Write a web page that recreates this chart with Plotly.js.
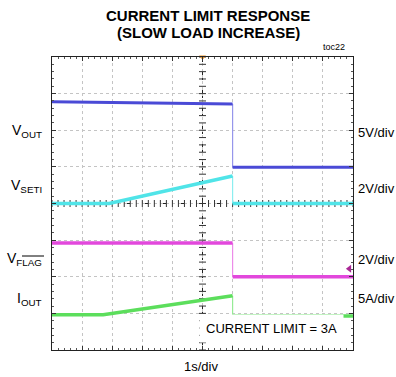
<!DOCTYPE html>
<html><head><meta charset="utf-8">
<script src="https://cdn.plot.ly/plotly-3.0.1.min.js"></script>
<style>html,body{margin:0;padding:0;background:#fff}#chart{width:396px;height:377px}</style>
</head><body><div id="chart"></div>
<script>
// Time axis in divisions (1 s/div); trace levels in screen divisions (8 vertical divs)
const VOUT_T_PRE = [0, 6.0];
const VOUT_V_PRE = [6.78, 6.72];
const VOUT_T_POST = [6.0, 10];
const VOUT_V_POST = [4.99, 4.99];

const VSETI_T_PRE = [0, 1.9, 6.0];
const VSETI_V_PRE = [4.0, 4.0, 4.75];
const VSETI_T_POST = [6.0, 10];
const VSETI_V_POST = [4.0, 4.0];

const VFLAG_T_PRE = [0, 6.0];
const VFLAG_V_PRE = [2.92, 2.92];
const VFLAG_T_POST = [6.0, 10];
const VFLAG_V_POST = [2.0, 2.0];

const IOUT_T_PRE = [0, 1.7, 6.0];
const IOUT_V_PRE = [0.96, 0.96, 1.48];
const IOUT_T_POST = [6.0, 10];
const IOUT_V_POST = [0.93, 0.93];

const LEFT_LABELS = ['V<sub>OUT</sub>', 'V<sub>SETI</sub>', 'V<sub>FLAG</sub>', 'I<sub>OUT</sub>'];
const RIGHT_LABELS = ['5V/div', '2V/div', '2V/div', '5A/div'];
const TITLE_LINES = ['CURRENT LIMIT RESPONSE', '(SLOW LOAD INCREASE)'];
const X_LABEL = '1s/div';
const NOTE = 'CURRENT LIMIT = 3A';
const TOC = 'toc22';

const COLORS = {
  vout: 'rgb(74,74,214)', voutEdge: 'rgb(150,150,235)',
  vseti: 'rgb(80,228,232)', vsetiEdge: 'rgb(140,238,240)',
  vflag: 'rgb(226,72,220)', vflagEdge: 'rgb(236,140,232)',
  iout: 'rgb(92,222,92)', ioutEdge: 'rgb(150,235,150)'
};

const W = 396, H = 377, L = 52, R = 353, T = 57, B = 350;
const px = x => (x - L) / (R - L);
const py = y => (B - y) / (B - T);

function seg(t, v, color, w) {
  return {x: t, y: v, type: 'scatter', mode: 'lines', line: {color: color, width: w}, hoverinfo: 'skip', showlegend: false};
}
function edge(tPre, vPre, tPost, vPost, color) {
  return seg([tPre[tPre.length - 1], tPost[0]], [vPre[vPre.length - 1], vPost[0]], color, 1.2);
}

// center-line tick marks (graticule decoration)
const hx = [], hy = [], vx = [], vy = [];
for (let i = 0; i <= 50; i++) { hx.push(i * 0.2); hy.push(4); }
for (let i = 0; i <= 40; i++) { vx.push(5); vy.push(i * 0.2); }

const data = [
  {x: hx, y: hy, type: 'scatter', mode: 'markers', marker: {symbol: 'line-ns', size: 5, line: {color: '#333', width: 1}}, hoverinfo: 'skip', showlegend: false},
  {x: vx, y: vy, type: 'scatter', mode: 'markers', marker: {symbol: 'line-ew', size: 5, line: {color: '#333', width: 1}}, hoverinfo: 'skip', showlegend: false},
  edge(VOUT_T_PRE, VOUT_V_PRE, VOUT_T_POST, VOUT_V_POST, COLORS.voutEdge),
  edge(VSETI_T_PRE, VSETI_V_PRE, VSETI_T_POST, VSETI_V_POST, COLORS.vsetiEdge),
  edge(VFLAG_T_PRE, VFLAG_V_PRE, VFLAG_T_POST, VFLAG_V_POST, COLORS.vflagEdge),
  edge(IOUT_T_PRE, IOUT_V_PRE, IOUT_T_POST, IOUT_V_POST, COLORS.ioutEdge),
  seg(VOUT_T_PRE, VOUT_V_PRE, COLORS.vout, 3),
  seg(VOUT_T_POST, VOUT_V_POST, COLORS.vout, 3),
  seg(VSETI_T_PRE, VSETI_V_PRE, COLORS.vseti, 3.5),
  seg(VSETI_T_POST, VSETI_V_POST, COLORS.vseti, 3.5),
  seg(VFLAG_T_PRE, VFLAG_V_PRE, COLORS.vflag, 3.5),
  seg(VFLAG_T_POST, VFLAG_V_POST, COLORS.vflag, 3.5),
  seg(IOUT_T_PRE, IOUT_V_PRE, COLORS.iout, 3.5),
  seg(IOUT_T_POST, IOUT_V_POST, COLORS.iout, 3.5),
  // trigger marker (top) and channel ground marker (right)
  {x: [5], y: [8], type: 'scatter', mode: 'markers', marker: {symbol: 'triangle-down', size: 6, color: 'rgb(240,150,40)'}, cliponaxis: false, hoverinfo: 'skip', showlegend: false},
  {x: [9.88], y: [2.22], type: 'scatter', mode: 'markers', marker: {symbol: 'triangle-left', size: 7, color: 'rgb(170,40,150)'}, cliponaxis: false, hoverinfo: 'skip', showlegend: false}
];

const FONT = 'Liberation Sans, Arial, sans-serif';
const leftY = [131, 186, 259, 299];
const rightY = [132, 188, 259, 298];
const annotations = [];
TITLE_LINES.forEach((t, i) => annotations.push({
  text: t, xref: 'paper', yref: 'paper', x: px(208), y: py(16 + i * 17), xanchor: 'center', yanchor: 'middle',
  showarrow: false, font: {family: FONT, size: 15, color: '#000', weight: 'bold'}
}));
annotations.push({text: TOC, xref: 'paper', yref: 'paper', x: px(347), y: py(47), xanchor: 'right', yanchor: 'middle', showarrow: false, font: {family: FONT, size: 9, color: '#000'}});
LEFT_LABELS.forEach((t, i) => annotations.push({
  text: t, xref: 'paper', yref: 'paper', x: px(44), y: py(leftY[i]), xanchor: 'right', yanchor: 'middle',
  showarrow: false, font: {family: FONT, size: 14, color: '#000'}
}));
RIGHT_LABELS.forEach((t, i) => annotations.push({
  text: t, xref: 'paper', yref: 'paper', x: px(356), y: py(rightY[i]), xanchor: 'left', yanchor: 'middle',
  showarrow: false, font: {family: FONT, size: 13, color: '#000'}
}));
annotations.push({text: X_LABEL, xref: 'paper', yref: 'paper', x: px(201), y: py(366), xanchor: 'center', yanchor: 'middle', showarrow: false, font: {family: FONT, size: 13, color: '#000'}});
annotations.push({text: NOTE, xref: 'paper', yref: 'paper', x: px(271), y: py(328), xanchor: 'center', yanchor: 'middle', showarrow: false,
  bgcolor: '#fff', borderpad: 6, font: {family: FONT, size: 13, color: '#000'}});

const shapes = [
  {type: 'line', xref: 'x', yref: 'y', x0: 5, x1: 5, y0: 0, y1: 8, line: {color: '#222', width: 1, dash: 'dash'}, layer: 'below'},
  {type: 'line', xref: 'x', yref: 'y', x0: 0, x1: 10, y0: 4, y1: 4, line: {color: '#222', width: 1, dash: 'dash'}, layer: 'below'},
  // overline on FLAG subscript
  {type: 'line', xref: 'paper', yref: 'paper', x0: px(22), x1: px(44), y0: py(256), y1: py(256), line: {color: '#000', width: 1}}
];

const axisCommon = {
  showgrid: true, gridcolor: '#c4c4c4', griddash: 'dot', gridwidth: 1, zeroline: false,
  showline: true, linecolor: '#222', linewidth: 1, mirror: 'allticks',
  ticks: 'inside', ticklen: 4, tickcolor: '#333', showticklabels: false, fixedrange: true,
  minor: {dtick: 0.2, ticks: 'inside', ticklen: 2, tickcolor: '#555', showgrid: false}
};

const layout = {
  width: W, height: H,
  margin: {l: L, r: W - R, t: T, b: H - B, pad: 0},
  paper_bgcolor: '#fff', plot_bgcolor: '#fff',
  xaxis: Object.assign({}, axisCommon, {range: [0, 10], dtick: 1, tick0: 0}),
  yaxis: Object.assign({}, axisCommon, {range: [0, 8], dtick: 1, tick0: 0}),
  annotations: annotations, shapes: shapes, showlegend: false
};

Plotly.newPlot('chart', data, layout, {staticPlot: true, displayModeBar: false});
</script></body></html>
